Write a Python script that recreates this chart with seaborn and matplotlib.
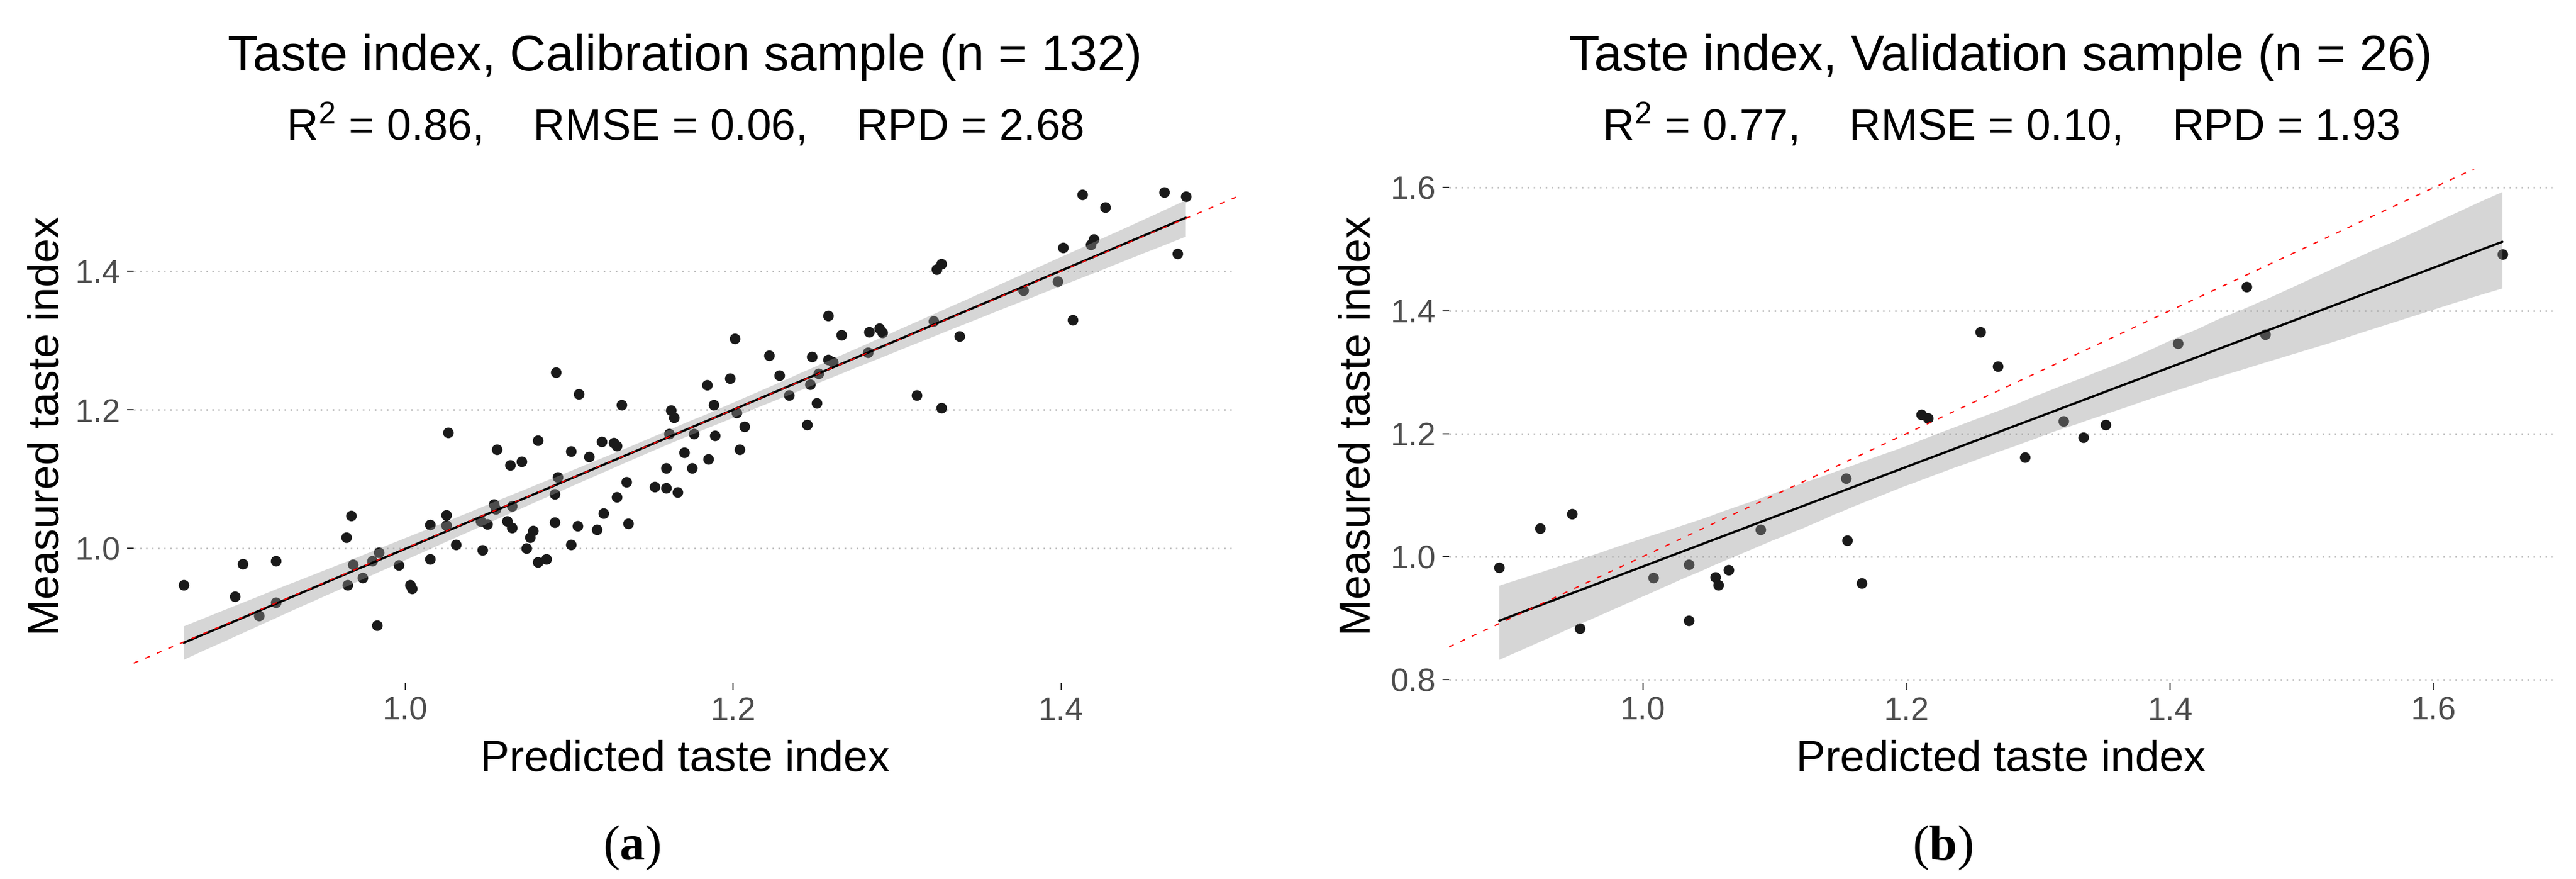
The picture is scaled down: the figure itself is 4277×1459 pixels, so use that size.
import matplotlib
matplotlib.use('Agg')
import matplotlib.pyplot as plt
import pandas as pd
import seaborn as sns

# calibration sample, predicted vs measured taste index
cal_pred = [0.865, 0.901, 0.921, 0.896, 0.921, 0.911, 0.967, 0.964, 0.968, 0.965,
            0.974, 0.984, 0.980, 0.996, 1.003, 1.004, 0.983,
            1.106, 1.026, 1.056, 1.081, 1.064, 1.071, 1.101, 1.112, 1.120, 1.093,
            1.091, 1.054, 1.055, 1.065, 1.025, 1.025, 1.015, 1.046, 1.050, 1.062,
            1.065, 1.031, 1.047, 1.015, 1.078, 1.076, 1.074, 1.081, 1.086, 1.091,
            1.105, 1.117, 1.101, 1.121, 1.092,
            1.201, 1.222, 1.228, 1.198, 1.184, 1.132, 1.188, 1.162, 1.164, 1.202,
            1.207, 1.204, 1.161, 1.176, 1.189, 1.170, 1.185, 1.159, 1.175, 1.152,
            1.159, 1.166, 1.127, 1.129, 1.135, 1.129, 1.136,
            1.327, 1.324, 1.258, 1.266, 1.283, 1.289, 1.291, 1.322, 1.338, 1.248,
            1.258, 1.261, 1.282, 1.252, 1.247, 1.234, 1.251, 1.245, 1.312, 1.327,
            1.413, 1.427, 1.463, 1.476, 1.401, 1.420, 1.418, 1.471, 1.398, 1.377,
            1.407]
cal_meas = [0.947, 0.978, 0.982, 0.931, 0.922, 0.903, 1.047, 1.016, 0.977, 0.947,
            0.958, 0.994, 0.982, 0.976, 0.947, 0.942, 0.889,
            1.223, 1.167, 1.143, 1.156, 1.120, 1.125, 1.140, 1.132, 1.154, 1.103,
            1.078, 1.064, 1.057, 1.061, 1.048, 1.033, 1.034, 1.039, 1.035, 1.039,
            1.030, 1.005, 0.998, 0.985, 1.025, 1.016, 1.000, 0.980, 0.985, 1.038,
            1.032, 1.027, 1.005, 1.051, 1.254,
            1.303, 1.278, 1.250, 1.245, 1.236, 1.207, 1.207, 1.199, 1.189, 1.196,
            1.176, 1.143, 1.165, 1.165, 1.163, 1.138, 1.129, 1.116, 1.116, 1.089,
            1.087, 1.081, 1.152, 1.148, 1.096, 1.074, 1.036,
            1.410, 1.403, 1.336, 1.308, 1.312, 1.317, 1.311, 1.328, 1.306, 1.277,
            1.272, 1.269, 1.283, 1.252, 1.237, 1.221, 1.210, 1.178, 1.221, 1.203,
            1.510, 1.492, 1.514, 1.508, 1.434, 1.446, 1.438, 1.425, 1.385, 1.372,
            1.330]

# validation sample
val_pred = [0.891, 0.922, 0.946, 0.952, 1.008, 1.035, 1.035, 1.055, 1.057, 1.065,
            1.089, 1.154, 1.155, 1.166, 1.211, 1.216, 1.256, 1.269, 1.290, 1.319,
            1.334, 1.351, 1.406, 1.458, 1.472, 1.652]
val_meas = [0.982, 1.046, 1.069, 0.883, 0.965, 0.987, 0.896, 0.966, 0.954, 0.978,
            1.044, 1.127, 1.026, 0.957, 1.231, 1.225, 1.365, 1.309, 1.161, 1.220,
            1.194, 1.214, 1.347, 1.439, 1.361, 1.492]

cal_ticks_x = [1.0, 1.2, 1.4]
cal_ticks_y = [1.0, 1.2, 1.4]
val_ticks_x = [1.0, 1.2, 1.4, 1.6]
val_ticks_y = [0.8, 1.0, 1.2, 1.4, 1.6]

titles = ['Taste index, Calibration sample (n = 132)',
          'Taste index, Validation sample (n = 26)']
subtitles = ['R$^2$ = 0.86,    RMSE = 0.06,    RPD = 2.68',
             'R$^2$ = 0.77,    RMSE = 0.10,    RPD = 1.93']
captions = [r'($\mathbf{a}$)', r'($\mathbf{b}$)']

sns.set_style('white')
plt.rcParams['font.family'] = ['Liberation Sans', 'DejaVu Sans']
plt.rcParams['text.color'] = 'black'
plt.rcParams['axes.labelcolor'] = 'black'
plt.rcParams['mathtext.fontset'] = 'custom'
plt.rcParams['mathtext.rm'] = 'Liberation Sans'
plt.rcParams['mathtext.it'] = 'Liberation Sans:italic'
plt.rcParams['mathtext.bf'] = 'Liberation Serif:bold'

W, H = 4277, 1459
fig = plt.figure(figsize=(W / 300, H / 300), dpi=300)

# panel boxes in pixels: left, right, top, bottom
boxes = [(222, 2052, 280, 1134), (2406, 4238, 280, 1134)]
caption_x = [1049, 3225]


def draw_panel(ax, pred, meas, xticks, yticks):
    df = pd.DataFrame({'pred': pred, 'meas': meas})
    sns.scatterplot(data=df, x='pred', y='meas', ax=ax, color='#1a1a1a',
                    s=18, linewidth=0, zorder=2)
    sns.regplot(data=df, x='pred', y='meas', ax=ax, scatter=False, ci=95,
                seed=3, color='black', line_kws={'lw': 0.9, 'zorder': 4})
    band = ax.collections[-1]
    band.set_facecolor('#999999')
    band.set_edgecolor('none')
    band.set_alpha(0.4)
    band.set_zorder(3)
    ax.axline((1, 1), slope=1, color='red', lw=0.5, ls=(0, (4, 6)), zorder=5)

    ax.set_xticks(xticks)
    ax.set_yticks(yticks)
    ax.set_xticklabels([f'{t:.1f}' for t in xticks])
    ax.set_yticklabels([f'{t:.1f}' for t in yticks])
    ax.tick_params(axis='both', length=2.75, width=0.5, color='#333333',
                   labelcolor='#4d4d4d', labelsize=13, pad=2.5, left=True, bottom=True)
    for s in ax.spines.values():
        s.set_visible(False)
    ax.yaxis.grid(True, ls=(0, (1, 3)), color='#b8b8b8', lw=0.6)
    ax.xaxis.grid(False)
    ax.set_axisbelow(True)

    ax.set_xlabel('Predicted taste index', fontsize=17.5, va='baseline')
    ax.set_ylabel('Measured taste index', fontsize=17.5, va='center')


panels = [(cal_pred, cal_meas, cal_ticks_x, cal_ticks_y),
          (val_pred, val_meas, val_ticks_x, val_ticks_y)]
ylab_px = [79, 2256]

for i, (pred, meas, xt, yt) in enumerate(panels):
    l, r, t, b = boxes[i]
    ax = fig.add_axes([l / W, 1 - b / H, (r - l) / W, (b - t) / H])
    draw_panel(ax, pred, meas, xt, yt)
    ax.xaxis.set_label_coords(0.5, -(1280 - b) / (b - t))
    ax.yaxis.set_label_coords((ylab_px[i] - l) / (r - l), 0.5)

    cx = (l + r) / 2 / W
    fig.text(cx, 1 - 117 / H, titles[i], ha='center', va='baseline', fontsize=20)
    fig.text(cx, 1 - 232 / H, subtitles[i], ha='center', va='baseline', fontsize=17.5)
    fig.text(caption_x[i] / W, 1 - 1407 / H, captions[i], ha='center', va='center',
             fontsize=20, family='Liberation Serif')

fig.savefig('out.png', dpi=300, facecolor='white')
